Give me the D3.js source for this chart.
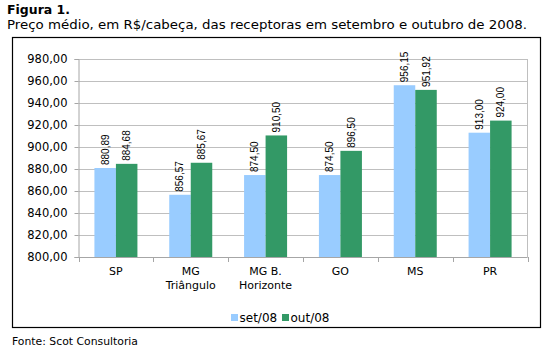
<!DOCTYPE html>
<html><head><meta charset="utf-8">
<script src="https://cdn.jsdelivr.net/npm/d3@7"></script>
<style>body{margin:0;background:#fff}svg{display:block}</style>
</head><body>
<script>
const categories = [["SP"],["MG","Triângulo"],["MG B.","Horizonte"],["GO"],["MS"],["PR"]];
const set08 = [880.89, 856.57, 874.50, 874.50, 956.15, 913.00];
const out08 = [884.68, 885.67, 910.50, 896.50, 951.92, 924.00];
const seriesNames = ["set/08","out/08"];
const yTicks = [800,820,840,860,880,900,920,940,960,980];
const colors = ["#99CCFF","#339966"];

const W=546,H=350;
const svg=d3.select("body").append("svg").attr("width",W).attr("height",H);
const font="Verdana, 'DejaVu Sans', sans-serif";

svg.append("text").attr("x",7).attr("y",13.5).attr("font-family",font).attr("font-size",12).attr("font-weight","bold").attr("textLength",63).attr("lengthAdjust","spacingAndGlyphs").text("Figura 1.");
svg.append("text").attr("x",7).attr("y",28.5).attr("font-family",font).attr("font-size",12.5).attr("textLength",520).attr("lengthAdjust","spacingAndGlyphs").text("Preço médio, em R$/cabeça, das receptoras em setembro e outubro de 2008.");
svg.append("rect").attr("x",12.5).attr("y",37.5).attr("width",528).attr("height",290).attr("fill","none").attr("stroke","#000").attr("stroke-width",1.2);
svg.append("text").attr("x",12).attr("y",345).attr("font-family",font).attr("font-size",11).attr("textLength",126).attr("lengthAdjust","spacingAndGlyphs").text("Fonte: Scot Consultoria");

const L=78.5,R=527.5,T=59,B=257;
const x=d3.scaleBand().domain(d3.range(categories.length)).range([L,R]);
const y=d3.scaleLinear().domain([800,980]).range([B,T]);
const inner=d3.scaleBand().domain([0,1]).range([0,x.bandwidth()]).paddingOuter(0.74).paddingInner(0);

// grid
svg.append("g").selectAll("line").data(yTicks).join("line")
 .attr("x1",L).attr("x2",R).attr("y1",d=>Math.round(y(d))+0.5).attr("y2",d=>Math.round(y(d))+0.5)
 .attr("stroke","#BFBFBF");
svg.append("line").attr("x1",R).attr("x2",R).attr("y1",T).attr("y2",B).attr("stroke","#BFBFBF");

// y axis
const ya=svg.append("g").attr("transform",`translate(${L},0)`).call(d3.axisLeft(y).tickValues(yTicks).tickSize(4).tickFormat(d=>d3.format(".2f")(d).replace(".",",")));
ya.select(".domain").attr("stroke","#A6A6A6");
ya.selectAll(".tick line").attr("stroke","#A6A6A6");
ya.selectAll("text").attr("font-family",font).attr("font-size",11.5).attr("fill","#000").attr("x",-11);

// bars
const series=[set08,out08];
series.forEach((vals,si)=>{
  svg.append("g").selectAll("rect").data(vals).join("rect")
   .attr("x",(d,i)=>x(i)+inner(si)).attr("width",inner.bandwidth())
   .attr("y",d=>y(d)).attr("height",d=>B-y(d)).attr("fill",colors[si]);
  svg.append("g").selectAll("text").data(vals).join("text")
   .attr("transform",(d,i)=>`translate(${x(i)+inner(si)+inner.bandwidth()/2+3.5},${y(d)-3}) rotate(-90)`)
   .attr("font-family","Arial, 'Liberation Sans', sans-serif").attr("font-size",10).attr("fill","#000")
   .text(d=>d3.format(".2f")(d).replace(".",","));
});

// x axis
const xa=svg.append("g").attr("transform",`translate(0,${B})`);
xa.append("line").attr("x1",L).attr("x2",R).attr("y1",0.5).attr("y2",0.5).attr("stroke","#A6A6A6");
xa.selectAll("line.t").data(d3.range(categories.length+1)).join("line").attr("class","t")
 .attr("x1",i=>Math.round(L+i*x.bandwidth())+0.5).attr("x2",i=>Math.round(L+i*x.bandwidth())+0.5)
 .attr("y1",0).attr("y2",5).attr("stroke","#A6A6A6");
categories.forEach((c,i)=>{
  const t=xa.append("text").attr("x",x(i)+x.bandwidth()/2).attr("y",18).attr("text-anchor","middle")
   .attr("font-family",font).attr("font-size",11).attr("fill","#000");
  c.forEach((s,j)=>t.append("tspan").attr("x",x(i)+x.bandwidth()/2).attr("dy",j?14:0).text(s));
});

// legend
const lg=svg.append("g");
const lx=[231,282];
seriesNames.forEach((n,i)=>{
  lg.append("rect").attr("x",lx[i]).attr("y",314).attr("width",7).attr("height",7).attr("fill",colors[i]);
  lg.append("text").attr("x",lx[i]+8.5).attr("y",322).attr("font-family",font).attr("font-size",12).attr("fill","#000").text(n);
});
</script>
</body></html>
